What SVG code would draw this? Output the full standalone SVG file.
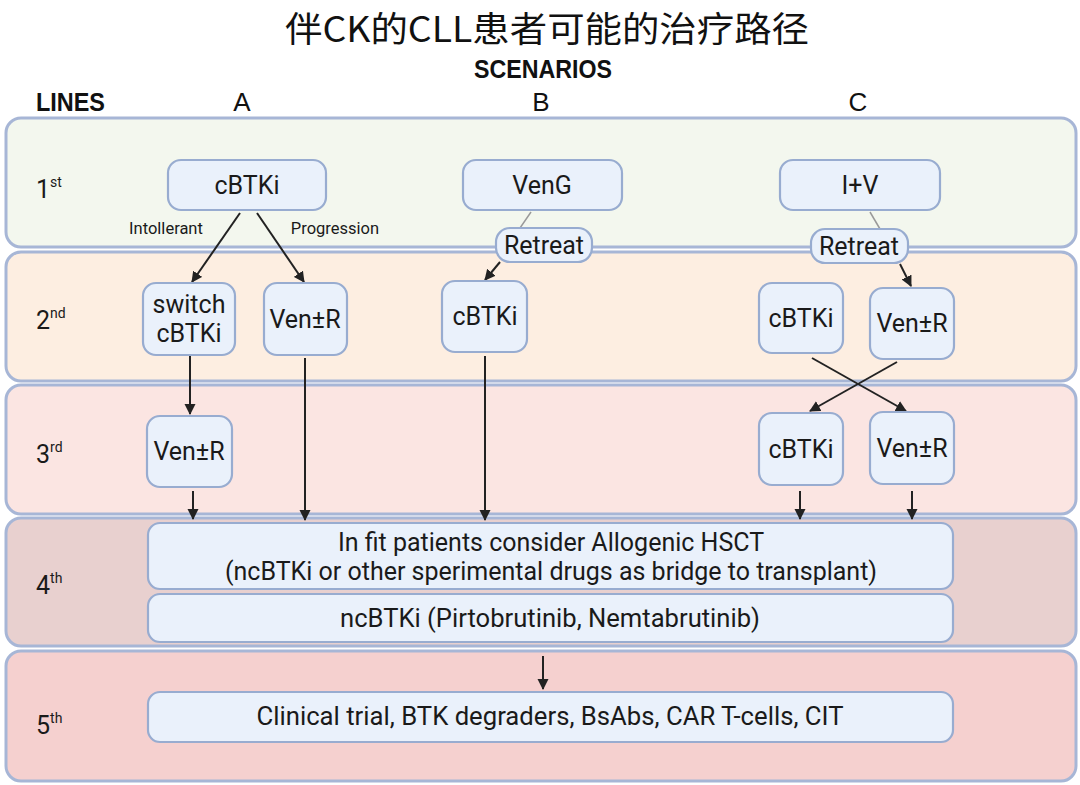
<svg xmlns="http://www.w3.org/2000/svg" width="1080" height="785" viewBox="0 0 1080 785">
<style>
.band{stroke:#a7b6d6;stroke-width:3}
.node{fill:#eaf1fb;stroke:#98acd0;stroke-width:2.2}
.t{font-family:Roboto,"Liberation Sans",sans-serif;fill:#1a1a1a;text-anchor:middle;dominant-baseline:central}
.nt{font-size:25px}
.lbl{font-family:Roboto,"Liberation Sans",sans-serif;fill:#1a1a1a;font-size:25px}
.sup{font-size:14px}
.hd{font-family:"Liberation Sans",Arial,sans-serif;font-weight:bold;font-size:26px;fill:#111}
.sc{font-family:"Liberation Sans",Arial,sans-serif;font-size:26px;fill:#111;text-anchor:middle}
.arr{stroke:#222;stroke-width:2;fill:none;marker-end:url(#ah)}
.thin{stroke:#999;stroke-width:1.5;fill:none}
</style>
<defs>
<marker id="ah" markerWidth="12" markerHeight="12" refX="10" refY="6" orient="auto" markerUnits="userSpaceOnUse">
<path d="M0,0.5 L11,6 L0,11.5 Z" fill="#222"/>
</marker>
</defs>
<rect width="1080" height="785" fill="#ffffff"/>
<text x="547" y="42" font-family="'Noto Sans CJK SC',sans-serif" font-size="35" text-anchor="middle" fill="#111" textLength="524" lengthAdjust="spacingAndGlyphs">伴CK的CLL患者可能的治疗路径</text>
<text x="474" y="78" class="hd" textLength="138" lengthAdjust="spacingAndGlyphs">SCENARIOS</text>
<text x="36" y="111" class="hd" textLength="69" lengthAdjust="spacingAndGlyphs">LINES</text>
<text x="242" y="111" class="sc">A</text>
<text x="541" y="111" class="sc">B</text>
<text x="858" y="111" class="sc">C</text>

<g id="bands">
<rect class="band" x="6" y="118" width="1070" height="129" rx="15" fill="#f3f7ee"/>
<rect class="band" x="6" y="252" width="1070" height="129" rx="15" fill="#fdeee1"/>
<rect class="band" x="6" y="385" width="1070" height="129" rx="15" fill="#fbe5e2"/>
<rect class="band" x="6" y="518" width="1070" height="128" rx="15" fill="#e8d0cf"/>
<rect class="band" x="6" y="651" width="1070" height="130" rx="15" fill="#f5d0cf"/>
<text class="lbl" x="36" y="198">1<tspan class="sup" dy="-11">st</tspan></text>
<text class="lbl" x="36" y="329">2<tspan class="sup" dy="-11">nd</tspan></text>
<text class="lbl" x="36" y="463">3<tspan class="sup" dy="-11">rd</tspan></text>
<text class="lbl" x="36" y="594">4<tspan class="sup" dy="-11">th</tspan></text>
<text class="lbl" x="36" y="734">5<tspan class="sup" dy="-11">th</tspan></text>
</g>

<g id="connectors">
<line class="thin" x1="520" y1="228" x2="531" y2="212"/>
<line class="thin" x1="870" y1="212" x2="880" y2="229"/>
<line class="arr" x1="240" y1="213" x2="192" y2="282"/>
<line class="arr" x1="257" y1="213" x2="304" y2="282"/>
<line class="arr" x1="500" y1="262" x2="485" y2="280"/>
<line class="arr" x1="900" y1="264" x2="911" y2="286"/>
<line class="arr" x1="190" y1="356" x2="190" y2="414"/>
<line class="arr" x1="305" y1="358" x2="305" y2="520"/>
<line class="arr" x1="485" y1="356" x2="485" y2="520"/>
<line class="arr" x1="812" y1="358" x2="906" y2="411"/>
<line class="arr" x1="897" y1="362" x2="810" y2="411"/>
<line class="arr" x1="193" y1="491" x2="193" y2="519"/>
<line class="arr" x1="800" y1="491" x2="800" y2="519"/>
<line class="arr" x1="912" y1="491" x2="912" y2="519"/>
<line class="arr" x1="543" y1="656" x2="543" y2="689"/>
<text x="166" y="228" class="t" font-size="16.5" fill="#333">Intollerant</text>
<text x="335" y="228" class="t" font-size="16.5" fill="#333">Progression</text>
</g>

<g id="a1"><rect class="node" x="168" y="160" width="158" height="50" rx="13"/><text class="t nt" x="247" y="185">cBTKi</text></g>
<g id="b1"><rect class="node" x="463" y="160" width="159" height="50" rx="13"/><text class="t nt" x="542" y="185">VenG</text></g>
<g id="c1"><rect class="node" x="780" y="160" width="160" height="50" rx="13"/><text class="t nt" x="860" y="185">I+V</text></g>
<g id="b-retreat"><rect class="node" x="496" y="228" width="96" height="34" rx="14"/><text class="t nt" x="544" y="245">Retreat</text></g>
<g id="c-retreat"><rect class="node" x="811" y="229" width="97" height="34" rx="14"/><text class="t nt" x="859" y="246">Retreat</text></g>
<g id="a2-switch"><rect class="node" x="143" y="283" width="92" height="72" rx="13"/><text class="t nt" x="189" y="304">switch</text><text class="t nt" x="189" y="333">cBTKi</text></g>
<g id="a2-ven"><rect class="node" x="264" y="283" width="83" height="72" rx="13"/><text class="t nt" x="305" y="319">Ven±R</text></g>
<g id="b2"><rect class="node" x="442" y="281" width="85" height="71" rx="13"/><text class="t nt" x="485" y="316">cBTKi</text></g>
<g id="c2-cbtki"><rect class="node" x="759" y="283" width="84" height="70" rx="13"/><text class="t nt" x="801" y="318">cBTKi</text></g>
<g id="c2-ven"><rect class="node" x="870" y="288" width="84" height="71" rx="13"/><text class="t nt" x="912" y="323">Ven±R</text></g>
<g id="a3"><rect class="node" x="147" y="416" width="85" height="71" rx="13"/><text class="t nt" x="189" y="451">Ven±R</text></g>
<g id="c3-cbtki"><rect class="node" x="759" y="413" width="84" height="72" rx="13"/><text class="t nt" x="801" y="449">cBTKi</text></g>
<g id="c3-ven"><rect class="node" x="870" y="412" width="84" height="72" rx="13"/><text class="t nt" x="912" y="448">Ven±R</text></g>
<g id="hsct"><rect class="node" x="148" y="523" width="805" height="66" rx="12"/><text class="t nt" x="551" y="542">In fit patients consider Allogenic HSCT</text><text class="t nt" x="551" y="571">(ncBTKi or other sperimental drugs as bridge to transplant)</text></g>
<g id="ncbtki"><rect class="node" x="148" y="594" width="805" height="48" rx="12"/><text class="t nt" x="550" y="618" textLength="420" lengthAdjust="spacingAndGlyphs">ncBTKi (Pirtobrutinib, Nemtabrutinib)</text></g>
<g id="fifth"><rect class="node" x="148" y="692" width="805" height="50" rx="12"/><text class="t nt" x="550" y="716" textLength="587" lengthAdjust="spacingAndGlyphs">Clinical trial, BTK degraders, BsAbs, CAR T-cells, CIT</text></g>
</svg>
